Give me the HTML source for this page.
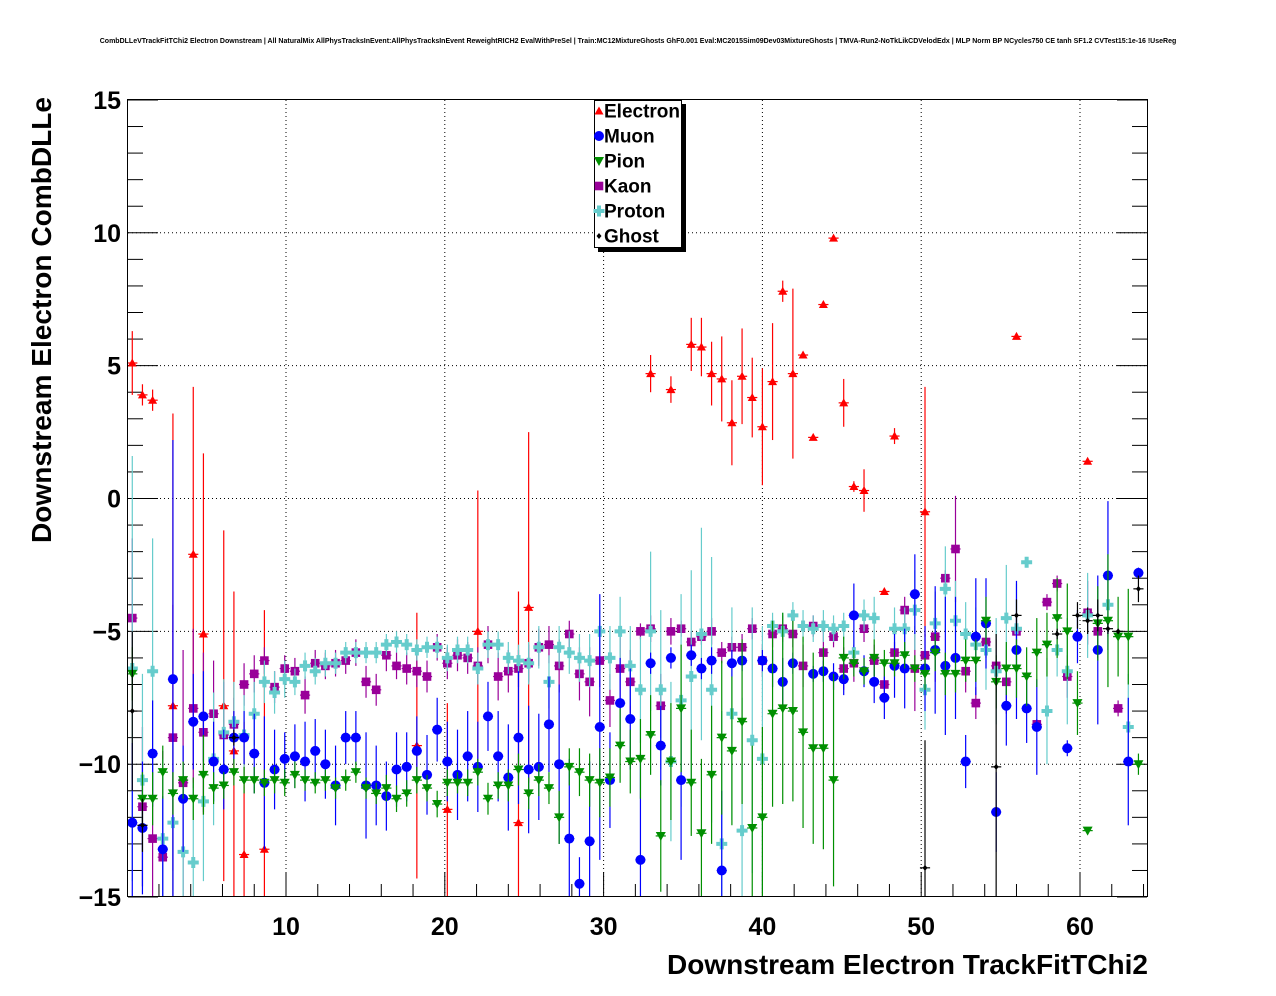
<!DOCTYPE html>
<html><head><meta charset="utf-8"><style>
html,body{margin:0;padding:0;background:#fff;overflow:hidden;width:1276px;height:996px;}
svg{display:block;font-family:"Liberation Sans",sans-serif;}
</style></head><body>
<svg id="chart" width="1276" height="996" viewBox="0 0 1276 996" xmlns="http://www.w3.org/2000/svg">
<rect x="0" y="0" width="1276" height="996" fill="#fff"/>
<text x="638" y="43" font-size="7.0" font-weight="bold" text-anchor="middle">CombDLLeVTrackFitTChi2 Electron Downstream | All NaturalMix AllPhysTracksInEvent:AllPhysTracksInEvent ReweightRICH2 EvalWithPreSel | Train:MC12MixtureGhosts GhF0.001 Eval:MC2015Sim09Dev03MixtureGhosts | TMVA-Run2-NoTkLikCDVelodEdx | MLP Norm BP NCycles750 CE tanh SF1.2 CVTest15:1e-16 !UseReg</text>
<g id="grid"></g>
<g id="ticks"></g>
<defs><clipPath id="clip"><rect x="128" y="100" width="1019" height="797"/></clipPath></defs>
<g id="data" clip-path="url(#clip)"></g>
<rect x="127.5" y="99.5" width="1020" height="797" fill="none" stroke="#000" stroke-width="1"/>
<g id="labels" font-size="25" font-weight="bold"></g>
<text x="1148" y="974" font-size="28" font-weight="bold" text-anchor="end" textLength="481" lengthAdjust="spacingAndGlyphs">Downstream Electron TrackFitTChi2</text>
<text transform="translate(51,543) rotate(-90)" font-size="28" font-weight="bold" text-anchor="start" textLength="446" lengthAdjust="spacingAndGlyphs">Downstream Electron CombDLLe</text>
<g id="legend"></g>
</svg>
<script>
const binWidth = 0.64;
const seriesNames = ["Electron","Muon","Pion","Kaon","Proton","Ghost"];
const yTicks = [-15,-10,-5,0,5,10,15];
const yTickLabels = ["\u221215","\u221210","\u22125","0","5","10","15"];
const xTicks = [10,20,30,40,50,60];
const xTickLabels = ["10","20","30","40","50","60"];
const N = null;
const electronVals = [5.1,3.9,3.7,N,-7.8,N,-2.1,-5.1,N,-7.8,
-9.5,-13.4,N,-13.2,N,N,N,N,N,N,
N,N,N,N,N,N,N,N,-9.3,N,
N,-11.7,N,N,-5.0,N,N,N,-12.2,-4.1,
N,N,N,N,N,N,N,N,N,N,
N,4.7,N,4.1,N,5.8,5.7,4.7,4.5,2.85,
4.6,3.8,2.7,4.4,7.8,4.7,5.4,2.3,7.3,9.8,
3.6,0.45,0.3,N,-3.5,2.35,N,N,-0.5,N,
N,N,N,N,N,N,N,6.1,N,N,
N,N,N,N,1.4,N,N,N,N,N];
const electronErr = [1.2,0.4,0.4,0,11,0,6.3,6.8,0,6.6,
6.0,5,0,9,0,0,0,0,0,0,
0,0,0,0,0,0,0,0,5,0,
0,4,0,0,5.3,0,0,0,8.7,6.6,
0,0,0,0,0,0,0,0,0,0,
0,0.7,0,0.5,0,1.0,1.1,1.2,1.6,1.6,
1.8,1.5,2.2,2.2,0.4,3.2,0.1,0.1,0.1,0.1,
0.9,0.2,0.8,0,0.1,0.3,0,0,4.7,0,
0,0,0,0,0,0,0,0.1,0,0,
0,0,0,0,0.1,0,0,0,0,0];
const muonVals = [-12.2,-12.4,-9.6,-13.2,-6.8,-11.3,-8.4,-8.2,-9.9,-10.2,
-9.0,-9.0,-9.6,-10.7,-10.2,-9.8,-9.7,-9.9,-9.5,-10.0,
-10.8,-9.0,-9.0,-10.8,-10.8,-11.2,-10.2,-10.1,-9.5,-10.4,
-8.7,-9.9,-10.4,-9.7,-10.1,-8.2,-9.7,-10.5,-9.0,-10.2,
-10.1,-8.5,-10.0,-12.8,-14.5,-12.9,-8.6,-10.6,-7.7,-8.3,
-13.6,-6.2,-9.3,-6.0,-10.6,-5.9,-6.4,-6.1,-14.0,-6.2,
-6.1,N,-6.1,-6.4,-6.9,-6.2,N,-6.6,-6.5,-6.7,
-6.8,-4.4,-6.5,-6.9,-7.5,-6.3,-6.4,-3.6,-6.4,-5.7,
-6.3,-6.0,-9.9,-5.2,-4.7,-11.8,-7.8,-5.7,-7.9,-8.6,
N,N,-9.4,-5.2,N,-5.7,-2.9,N,-9.9,-2.8];
const muonErr = [3,2.5,2,2,9,2,1.8,1.7,1.5,1.5,
1,1,1.5,2.5,1.5,1,1.2,1.5,1.2,1.3,
1.5,1,1,2,1.5,1.3,1.4,1.3,1.3,1.5,
1.2,1.5,1.7,1.7,1.7,1.3,1.7,2,2.5,2.4,
2,1.8,3,3,1,3,5,1.8,1.7,1.9,
4,0.4,1.5,0.4,3,0.4,0.4,0.5,3,0.5,
0.4,0,0.4,0.7,0.9,0.4,0,0.3,0.4,0.5,
0.6,1.2,0.6,0.8,0.8,1.2,1.5,1.5,1.6,2.4,
2.6,2.3,1,2.2,1.7,1.5,1.5,2.6,1.3,1.8,
0,0,0.3,1,0,2.8,2.8,0,2.4,0.2];
const pionVals = [-6.6,-11.3,-11.3,-10.3,-11.1,-10.6,-11.3,-10.4,-10.9,-10.8,
-10.3,-10.6,-10.6,-10.7,-10.6,-10.7,-10.4,-10.6,-10.7,-10.6,
-10.9,-10.6,-10.3,-10.9,-11.1,-10.9,-11.3,-11.1,-10.6,-10.9,
-11.5,-10.7,-10.7,-10.7,-10.3,-11.3,-10.8,-10.8,-10.2,-11.1,
-10.6,-10.9,-12.0,-10.1,-10.3,-10.6,-10.7,-10.5,-9.3,-9.9,
-9.8,-8.9,-12.7,-9.9,-7.9,-10.7,-12.6,-10.4,-9.0,-9.5,
-8.4,-12.4,-12.0,-8.1,-7.9,-8.0,-8.8,-9.4,-9.4,-10.6,
-6.0,-6.2,-6.5,-6.0,-6.2,-6.2,-5.9,-6.4,-6.6,-5.8,
-6.6,-6.6,-6.1,-6.1,-4.6,-6.9,-6.4,-6.4,-6.7,-5.8,
-5.5,-4.5,-5.0,-7.7,-12.5,-4.7,-4.6,-5.2,-5.2,-10.0];
const pionErr = [1,1,1,1,0.8,0.7,0.8,1.5,0.6,0.5,
0.5,0.5,0.5,0.5,0.5,0.5,0.5,0.4,0.4,0.4,
0.4,0.4,0.4,0.4,0.4,0.5,0.5,0.5,0.5,0.5,
0.5,0.5,0.4,0.5,0.5,0.6,0.5,0.6,0.6,0.6,
0.6,0.6,1,0.7,0.9,1,1.3,1.1,1.4,1.2,
1.5,1.5,2.1,2.2,2.4,2.0,2.8,2.6,2.9,2.8,
3.1,3.1,3.4,3.5,3.6,3.4,3.6,3.6,3.8,4,
0.8,0.5,0.5,0.7,0.5,0.5,0.5,0.5,0.6,0.7,
0.8,0.7,0.8,0.8,0.9,1.0,1.0,1.1,1.1,1.3,
1.2,1.5,1.8,1.2,0,1.4,2.5,1.5,1.8,0.4];
const kaonVals = [-4.5,-11.6,-12.8,-13.5,-9.0,-10.7,-7.9,-8.8,-8.1,-8.9,
-8.5,-7.0,-6.6,-6.1,-7.1,-6.4,-6.5,-7.4,-6.2,-6.3,
-6.2,-6.1,-5.8,-6.9,-7.2,-5.9,-6.3,-6.4,-6.5,-6.7,
-5.6,-6.2,-5.9,-6.0,-6.3,-5.5,-6.7,-6.5,-6.4,-6.2,
-5.6,-5.5,-6.3,-5.1,-6.6,-6.9,-6.1,-7.6,-6.4,-6.9,
-5.0,-4.9,-7.8,-5.0,-4.9,-5.4,-5.2,-5.0,-5.8,-5.6,
-5.6,-4.9,-6.1,-5.1,-4.9,-5.1,-6.3,-4.8,-5.8,-5.2,
-6.4,-6.2,-4.9,-6.1,-7.0,-5.8,-4.2,-6.4,-5.9,-5.2,
-3.0,-1.9,-6.5,-7.7,-5.4,-6.3,-6.9,-5.0,N,-8.5,
-3.9,-3.2,-6.7,N,-4.3,-5.0,N,-7.9,N,N];
const kaonErr = [3,3,3,4,5,5,3,3,2,2,
1,0.8,0.7,0.5,0.6,0.5,0.5,0.7,0.5,0.5,
0.5,0.5,0.5,0.6,0.6,0.6,0.5,0.6,0.6,0.6,
0.5,0.6,0.6,0.6,0.7,0.7,0.9,0.8,0.7,0.7,
0.7,0.7,1,0.5,1,1.3,1,1,1.5,1.2,
0.3,0.5,1.2,0.5,0.3,0.4,0.3,0.5,0.4,0.4,
0.5,0.4,0.6,0.5,0.5,0.5,0.8,0.4,0.8,0.4,
0.8,0.7,0.5,0.6,0.7,0.4,0.5,1.6,0.8,1.7,
0.3,2.0,0.8,0.6,0.6,1.0,1.2,0.7,0,0.2,
0.3,0.3,0.8,0,1.2,1.0,0,0.3,0,0];
const protonVals = [-6.4,-10.6,-6.5,-12.8,-12.2,-13.3,-13.7,-11.4,-9.8,-8.8,
-8.4,-8.9,-8.1,-6.9,-7.3,-6.8,-6.9,-6.3,-6.5,-6.2,
-6.2,-5.8,-5.8,-5.8,-5.8,-5.5,-5.4,-5.5,-5.7,-5.6,
-5.6,-6.0,-5.7,-5.7,-6.4,-5.5,-5.5,-6.0,-6.1,-6.2,
-5.6,-6.9,-5.6,-5.8,-6.0,-6.1,-5.0,-6.0,-5.0,-6.3,
-7.2,-5.0,-7.2,-9.9,-7.6,-6.7,-5.1,-7.2,-13.0,-8.1,
-12.5,-9.1,-9.8,-4.8,-5.0,-4.4,-4.8,-4.9,-4.8,-4.9,
-4.8,-5.8,-4.4,-4.5,N,-4.9,-4.9,-4.2,-7.2,-4.7,
-3.4,-4.6,-5.1,-5.5,-5.7,-6.5,-4.5,-4.9,-2.4,N,
-8.0,-5.7,-6.5,N,-4.4,N,-4.0,N,-8.6,N];
const protonErr = [8,4,5,3,3,3,3,3,2.5,2,
1.5,1.5,1.2,0.8,0.8,0.7,0.5,0.5,0.5,0.5,
0.4,0.4,0.4,0.4,0.4,0.4,0.4,0.4,0.4,0.4,
0.4,0.5,0.5,0.5,0.6,0.5,0.5,0.6,0.6,0.8,
0.8,1.0,0.8,0.8,0.9,1.0,0.8,1.2,1.3,1.5,
2,3,3,3,4,4,4,5,5,4,
5,5,5,0.5,0.7,0.5,0.6,0.5,0.6,0.5,
0.5,0.8,0.6,0.8,0,0.8,0.8,1.5,1.5,1.2,
1.6,1.5,1.2,1.4,1.5,2,2,1.7,0.2,0,
2,1,2,0,1.6,0,1.2,0,2,0];
const ghostVals = [-8.0,-12.3,N,N,N,N,N,N,N,N,
-9.0,N,N,N,N,N,N,N,N,N,
N,N,N,N,N,N,N,N,N,N,
N,N,N,N,N,N,N,N,N,N,
N,N,N,N,N,N,N,N,N,N,
N,N,N,N,N,N,N,N,N,N,
N,N,N,N,N,N,N,N,N,N,
N,N,N,N,N,N,N,N,-13.9,N,
N,N,N,N,N,-10.1,N,-4.4,N,N,
N,-5.1,N,-4.4,-4.6,-4.4,-4.9,-5.0,N,-3.4];
const ghostErr = [3,1,0,0,0,0,0,0,0,0,
0.3,0,0,0,0,0,0,0,0,0,
0,0,0,0,0,0,0,0,0,0,
0,0,0,0,0,0,0,0,0,0,
0,0,0,0,0,0,0,0,0,0,
0,0,0,0,0,0,0,0,0,0,
0,0,0,0,0,0,0,0,0,0,
0,0,0,0,0,0,0,0,4.8,0,
0,0,0,0,0,5,0,0.6,0,0,
0,0.2,0,0.5,0.5,0.6,0.2,0.1,0,0.5];

const NS = "http://www.w3.org/2000/svg";
function xs(v){ return 127.2 + v*15.88; }
function ys(v){ return 498.5 - v*26.57; }
function mk(tag, attrs, parent){
  const e = document.createElementNS(NS, tag);
  for (const k in attrs) e.setAttribute(k, attrs[k]);
  parent.appendChild(e);
  return e;
}
const grid = document.getElementById('grid');
const ticks = document.getElementById('ticks');
const labels = document.getElementById('labels');
const data = document.getElementById('data');
const legend = document.getElementById('legend');

yTicks.forEach((t,i)=>{
  const y = ys(t);
  if (t>-15 && t<15) {
    const g = mk('line',{x1:128,x2:1147,y1:y,y2:y,stroke:'#000','stroke-width':1,'stroke-dasharray':'1,3'},grid);
    
    
  }
  const tl = mk('text',{x:121,y:y+9,'text-anchor':'end'},labels);
  
  
  tl.textContent = yTickLabels[i];
});
for (let v=-15; v<=15; v++){
  const y = ys(v);
  const len = (v%5===0)?30:15;
  const a = mk('line',{x1:128,x2:128+len,y1:y,y2:y,stroke:'#000','stroke-width':1},ticks);
  
  
  const b = mk('line',{x1:1147-len,x2:1147,y1:y,y2:y,stroke:'#000','stroke-width':1},ticks);
  
  
}
xTicks.forEach((t,i)=>{
  const x = xs(t);
  const g = mk('line',{x1:x,x2:x,y1:100,y2:896,stroke:'#000','stroke-width':1,'stroke-dasharray':'1,3'},grid);
  
  
  const tl = mk('text',{x:x,y:935,'text-anchor':'middle'},labels);
  
  
  tl.textContent = xTickLabels[i];
});
for (let v=2; v<=64; v+=2){
  const x = xs(v);
  const len = (v%10===0)?24:12;
  const a = mk('line',{x1:x,x2:x,y1:896-len,y2:896,stroke:'#000','stroke-width':1},ticks);
  
  
}

function marker(kind, x, y, color, parent){
  let e;
  if (kind==='tri-up') e = mk('polygon',{points:`${x-4.5},${y+3.5} ${x+4.5},${y+3.5} ${x},${y-4.5}`,fill:color},parent);
  else if (kind==='tri-down') e = mk('polygon',{points:`${x-5},${y-4} ${x+5},${y-4} ${x},${y+5}`,fill:color},parent);
  else if (kind==='circle') e = mk('circle',{cx:x,cy:y,r:5,fill:color},parent);
  else if (kind==='square') e = mk('rect',{x:x-4.3,y:y-4.3,width:8.6,height:8.6,fill:color},parent);
  else if (kind==='cross') e = mk('path',{d:`M${x-2},${y-5.5}h4v3.5h3.5v4h-3.5v3.5h-4v-3.5h-3.5v-4h3.5z`,fill:color},parent);
  else e = mk('path',{d:`M${x},${y-3}L${x+2.5},${y}L${x},${y+3}L${x-2.5},${y}z`,fill:color},parent);
  return e;
}
const seriesVals = [electronVals,muonVals,pionVals,kaonVals,protonVals,ghostVals];
const seriesErr = [electronErr,muonErr,pionErr,kaonErr,protonErr,ghostErr];
const seriesColor = ['#ff0000','#0000ff','#008f00','#990099','#66cccc','#000000'];
const seriesKind = ['tri-up','circle','tri-down','square','cross','diamond'];
const drawOrder = [0,3,4,1,2,5];
drawOrder.forEach(s=>{
  const g = mk('g',{},data);
  
  
  seriesVals[s].forEach((v,i)=>{
    if (v===null) return;
    const c = (i+0.5)*binWidth;
    const x = xs(c), y = ys(v);
    const e = seriesErr[s][i]||0;
    const col = seriesColor[s];
    if (e>0){
      const eb = mk('line',{x1:x,x2:x,y1:ys(v+e),y2:ys(v-e),stroke:col,'stroke-width':1.2},g);
      
      
    }
    const hb = mk('line',{x1:xs(c-binWidth/2),x2:xs(c+binWidth/2),y1:y,y2:y,stroke:col,'stroke-width':1.2},g);
    
    
    const m = marker(seriesKind[s], x, y, col, g);
    
    
  });
});

// legend
const sh = mk('rect',{x:598,y:104,width:88,height:148,fill:'#000'},legend);


const bx = mk('rect',{x:594.5,y:100.5,width:87,height:147,fill:'#fff',stroke:'#000','stroke-width':1},legend);


seriesNames.forEach((n,i)=>{
  const y = 111 + i*25;
  const g = mk('g',{},legend);
  
  
  const m = marker(seriesKind[i], 599, y, seriesColor[i], g);
  
  
  const t = mk('text',{x:604,y:y+6.5,'font-size':19,'font-weight':'bold'},g);
  
  
  t.textContent = n;
});
</script>
</body></html>
